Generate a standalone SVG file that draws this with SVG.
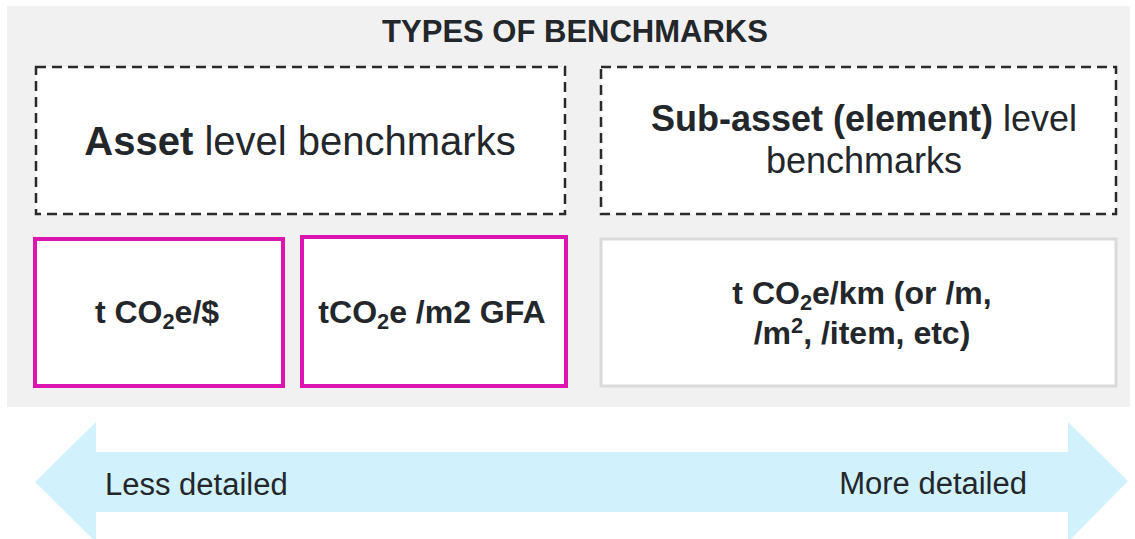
<svg xmlns="http://www.w3.org/2000/svg" width="1135" height="539" viewBox="0 0 1135 539">
<style>
.t{font-family:"Liberation Sans",Arial,sans-serif;fill:#23272b}
.b{font-weight:bold}
.dash{fill:#fff;stroke:#2a2a2a;stroke-width:2.5;stroke-dasharray:10 6}
.pink{fill:#fff;stroke:#dc14b0;stroke-width:4}
.grey{fill:#fff;stroke:#dadada;stroke-width:3}
.sub{font-size:0.68em}
</style>
<rect x="0" y="0" width="1135" height="539" fill="#fff"/>
<rect id="panel" x="7" y="6" width="1123" height="401" fill="#f1f1f1"/>
<text class="t b" x="575" y="42" font-size="31" text-anchor="middle">TYPES OF BENCHMARKS</text>
<g id="asset">
<rect class="dash" x="36" y="67" width="529" height="147"/>
<text class="t" x="300" y="155" font-size="40" text-anchor="middle"><tspan class="b">Asset</tspan> level benchmarks</text>
</g>
<g id="subasset">
<rect class="dash" x="601" y="67" width="515" height="147"/>
<text class="t" x="864" y="131" font-size="36" text-anchor="middle"><tspan class="b">Sub-asset (element)</tspan> level</text>
<text class="t" x="864" y="173" font-size="36" text-anchor="middle">benchmarks</text>
</g>
<g id="perdollar">
<rect class="pink" x="35" y="239" width="248" height="147"/>
<text class="t b" x="157" y="323" font-size="32" text-anchor="middle">t CO<tspan class="sub" dy="6">2</tspan><tspan dy="-6">e/$</tspan></text>
</g>
<g id="pergfa">
<rect class="pink" x="302" y="237" width="264" height="149"/>
<text class="t b" x="432" y="323" font-size="32" text-anchor="middle">tCO<tspan class="sub" dy="6">2</tspan><tspan dy="-6">e /m2 GFA</tspan></text>
</g>
<g id="perkm">
<rect class="grey" x="601" y="239" width="515" height="147"/>
<text class="t b" x="862" y="304" font-size="32" text-anchor="middle">t CO<tspan class="sub" dy="6">2</tspan><tspan dy="-6">e/km (or /m,</tspan></text>
<text class="t b" x="862" y="344" font-size="32" text-anchor="middle">/m<tspan class="sub" dy="-11">2</tspan><tspan dy="11">, /item, etc)</tspan></text>
</g>
<g id="connectors">
<polygon points="35,482 96,422 96,452 1068,452 1068,422 1128,481 1068,542 1068,512 96,512 96,542" fill="#d1f1fc"/>
</g>
<text class="t" x="105" y="495" font-size="31">Less detailed</text>
<text class="t" x="1027" y="494" font-size="31" text-anchor="end">More detailed</text>
</svg>
